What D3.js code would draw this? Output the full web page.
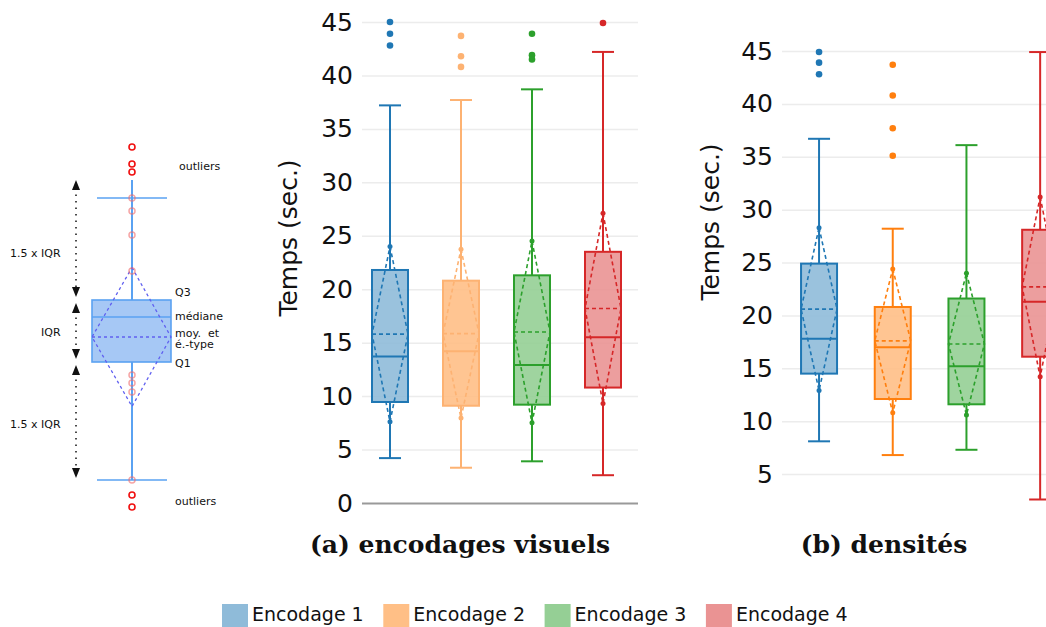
<!DOCTYPE html>
<html>
<head>
<meta charset="utf-8">
<script src="https://cdn.jsdelivr.net/npm/d3@7"></script>
<style>
  body { margin: 0; background: #fff; }
  svg { display: block; font-family: "DejaVu Sans", sans-serif; }
</style>
</head>
<body>
<script>
// --- data ---
const categories = ["Encodage 1", "Encodage 2", "Encodage 3", "Encodage 4"];
const ticksA = [0, 5, 10, 15, 20, 25, 30, 35, 40, 45];
const ticksB = [5, 10, 15, 20, 25, 30, 35, 40, 45];

// (a) encodages visuels
const aLow = [4.2, 3.3, 3.9, 2.6];
const aQ1 = [9.45, 9.1, 9.2, 10.8];
const aMed = [13.7, 14.2, 12.9, 15.5];
const aQ3 = [21.8, 20.8, 21.3, 23.5];
const aHigh = [37.2, 37.7, 38.7, 42.2];
const aMean = [15.8, 15.85, 16.0, 18.2];
const aSd = [8.2, 7.9, 8.5, 8.9];
const aOut = [[45.0, 43.9, 42.8], [43.7, 41.8, 40.8], [43.9, 41.9, 41.5], [44.9]];

// (b) densités
const bLow = [8.1, 6.8, 7.3, 2.6];
const bQ1 = [14.5, 12.1, 11.6, 16.1];
const bMed = [17.8, 17.0, 15.2, 21.3];
const bQ3 = [24.9, 20.8, 21.6, 28.1];
const bHigh = [36.7, 28.2, 36.1, 44.9];
const bMean = [20.6, 17.6, 17.3, 22.7];
const bSd = [7.7, 6.8, 6.7, 8.5];
const bOut = [[44.9, 43.9, 42.8], [43.7, 40.8, 37.7, 35.1], [], []];

// schematic (abstract units)
const sStats = {low: 2.7, q1: 14.5, med: 19.0, q3: 20.7, high: 30.9, top: 32.7, mean: 17.0, sd: 6.95};
const sOutliers = [36.0, 34.3, 33.5, 1.2, 0.0];
const sInside = [30.9, 29.6, 27.2, 23.6, 13.2, 12.4, 11.5, 2.7];

const lineColors = ["#1f77b4", "#ff7f0e", "#2ca02c", "#d62728"];
const lineColorsA = ["#1f77b4", "#fdb272", "#2ca02c", "#d62728"];
const swatch = ["#8fbbd9", "#ffbf86", "#95cf95", "#ea9393"];

const W = 1046, H = 627;
const svg = d3.select("body").append("svg").attr("width", W).attr("height", H);
svg.append("rect").attr("width", W).attr("height", H).attr("fill", "#fff");

function panel(opt) {
  const y = d3.scaleLinear().domain([0, 45]).range(opt.yRange);
  const x = d3.scalePoint().domain(categories).range(opt.xRange).padding(0.5);
  const g = svg.append("g");

  const axis = d3.axisLeft(y).tickValues(opt.ticks)
    .tickSize(-(opt.gridEnd - opt.gridStart)).tickPadding(9);
  const ax = g.append("g").attr("transform", "translate(" + opt.gridStart + ",0)").call(axis);
  ax.select(".domain").remove();
  ax.selectAll("line").attr("stroke", "#ececec").attr("stroke-width", 1.5);
  ax.selectAll("text").attr("font-size", 25).attr("fill", "#111")
    .attr("font-family", "DejaVu Sans");
  if (opt.baseline) {
    ax.selectAll(".tick").filter(d => d === 0).select("line")
      .attr("stroke", "#999").attr("stroke-width", 2);
  }

  g.append("text").attr("transform", "translate(" + opt.titleX + "," + opt.titleY + ") rotate(-90)")
    .attr("text-anchor", "middle").attr("dominant-baseline", "central")
    .attr("font-size", 25).attr("fill", "#111").text("Temps (sec.)");

  const bw = 36, cw = 22;
  categories.forEach((c, i) => {
    const cx = x(c), col = opt.colors[i];
    const bg = g.append("g");
    // whiskers
    bg.append("line").attr("x1", cx).attr("x2", cx).attr("y1", y(opt.low[i])).attr("y2", y(opt.q1[i]))
      .attr("stroke", col).attr("stroke-width", 2);
    bg.append("line").attr("x1", cx).attr("x2", cx).attr("y1", y(opt.q3[i])).attr("y2", y(opt.high[i]))
      .attr("stroke", col).attr("stroke-width", 2);
    [opt.low[i], opt.high[i]].forEach(v => {
      bg.append("line").attr("x1", cx - cw / 2).attr("x2", cx + cw / 2).attr("y1", y(v)).attr("y2", y(v))
        .attr("stroke", col).attr("stroke-width", 2);
    });
    // box
    bg.append("rect").attr("x", cx - bw / 2).attr("width", bw)
      .attr("y", y(opt.q3[i])).attr("height", y(opt.q1[i]) - y(opt.q3[i]))
      .attr("fill", swatch[i]).attr("fill-opacity", 0.9).attr("stroke", col).attr("stroke-width", 2);
    // median
    bg.append("line").attr("x1", cx - bw / 2).attr("x2", cx + bw / 2)
      .attr("y1", y(opt.med[i])).attr("y2", y(opt.med[i])).attr("stroke", col).attr("stroke-width", 2);
    // mean & sd diamond
    const m = opt.mean[i], s = opt.sd[i];
    bg.append("line").attr("x1", cx - bw / 2).attr("x2", cx + bw / 2)
      .attr("y1", y(m)).attr("y2", y(m)).attr("stroke", col).attr("stroke-width", 1.6)
      .attr("stroke-dasharray", "4,3");
    bg.append("path")
      .attr("d", d3.line()([[cx, y(m + s)], [cx + bw / 2, y(m)], [cx, y(m - s)], [cx - bw / 2, y(m)], [cx, y(m + s)]]))
      .attr("fill", "none").attr("stroke", col).attr("stroke-width", 1.6).attr("stroke-dasharray", "4,3");
    [m + s, m - s].forEach(v => {
      bg.append("circle").attr("cx", cx).attr("cy", y(v)).attr("r", 2.5).attr("fill", col);
    });
    // outliers
    bg.selectAll("circle.out").data(opt.out[i]).enter().append("circle").attr("class", "out")
      .attr("cx", cx).attr("cy", d => y(d)).attr("r", 3.3).attr("fill", col);
  });

  svg.append("text").attr("x", opt.capX).attr("y", 553).attr("text-anchor", "middle")
    .attr("font-family", "DejaVu Serif").attr("font-weight", "bold").attr("font-size", 25)
    .attr("fill", "#111").text(opt.caption);
}

panel({
  yRange: [503, 22], xRange: [354.5, 638.5], ticks: ticksA, gridStart: 362, gridEnd: 638,
  baseline: true, titleX: 288, titleY: 238, colors: lineColorsA,
  low: aLow, q1: aQ1, med: aMed, q3: aQ3, high: aHigh, mean: aMean, sd: aSd, out: aOut,
  capX: 460, caption: "(a) encodages visuels"
});

panel({
  yRange: [527, 51], xRange: [782.2, 1077], ticks: ticksB, gridStart: 782, gridEnd: 1046,
  baseline: false, titleX: 710, titleY: 222, colors: lineColors,
  low: bLow, q1: bQ1, med: bMed, q3: bQ3, high: bHigh, mean: bMean, sd: bSd, out: bOut,
  capX: 884, caption: "(b) densités"
});

// --- schematic box plot ---
const sy = d3.scaleLinear().domain([0, 36]).range([507, 147]);
const sx = 132, sbw = 79, scw = 70;
const sBlue = "#5aa2f2", sFill = "#a6c8f5", sDiam = "#6060f0";
const sg = svg.append("g").attr("font-size", 11).attr("fill", "#111");
sg.append("line").attr("x1", sx).attr("x2", sx).attr("y1", sy(sStats.top)).attr("y2", sy(sStats.low))
  .attr("stroke", sBlue).attr("stroke-width", 2);
[sStats.high, sStats.low].forEach(v => {
  sg.append("line").attr("x1", sx - 35).attr("x2", sx + 35).attr("y1", sy(v)).attr("y2", sy(v))
    .attr("stroke", sBlue).attr("stroke-width", 1.6);
});
sg.append("rect").attr("x", sx - 40).attr("width", sbw).attr("y", sy(sStats.q3))
  .attr("height", sy(sStats.q1) - sy(sStats.q3)).attr("fill", sFill).attr("stroke", sBlue).attr("stroke-width", 1.6);
sg.append("line").attr("x1", sx - 40).attr("x2", sx + 39).attr("y1", sy(sStats.med)).attr("y2", sy(sStats.med))
  .attr("stroke", sBlue).attr("stroke-width", 1.6);
sg.append("line").attr("x1", sx - 40).attr("x2", sx + 39).attr("y1", sy(sStats.mean)).attr("y2", sy(sStats.mean))
  .attr("stroke", sDiam).attr("stroke-width", 1.3).attr("stroke-dasharray", "3,3");
sg.append("path")
  .attr("d", d3.line()([[sx, sy(sStats.mean + sStats.sd)], [sx + 39, sy(sStats.mean)], [sx, sy(sStats.mean - sStats.sd)],
    [sx - 40, sy(sStats.mean)], [sx, sy(sStats.mean + sStats.sd)]]))
  .attr("fill", "none").attr("stroke", sDiam).attr("stroke-width", 1.3).attr("stroke-dasharray", "3,3");
sg.selectAll("circle.in").data(sInside).enter().append("circle").attr("class", "in")
  .attr("cx", sx).attr("cy", d => sy(d)).attr("r", 3).attr("fill", "none")
  .attr("stroke", "#f06a6a").attr("stroke-opacity", 0.6).attr("stroke-width", 1.5);
sg.selectAll("circle.out").data(sOutliers).enter().append("circle").attr("class", "out")
  .attr("cx", sx).attr("cy", d => sy(d)).attr("r", 3).attr("fill", "#fff")
  .attr("stroke", "#f01010").attr("stroke-width", 1.6);

// dotted double arrows
const ax0 = 76;
function arrowDown(yy) { return d3.line()([[ax0 - 4, yy - 10], [ax0 + 4, yy - 10], [ax0, yy]]); }
function arrowUp(yy) { return d3.line()([[ax0 - 4, yy + 10], [ax0 + 4, yy + 10], [ax0, yy]]); }
[[sStats.top, sStats.q3 + 0.3], [sStats.q3 - 0.3, sStats.q1 + 0.3], [sStats.q1 - 0.3, sStats.low + 0.2]].forEach(p => {
  const y1 = sy(p[0]), y2 = sy(p[1]);
  sg.append("line").attr("x1", ax0).attr("x2", ax0).attr("y1", y1 + 8).attr("y2", y2 - 8)
    .attr("stroke", "#111").attr("stroke-width", 1.5).attr("stroke-dasharray", "1.5,5");
  sg.append("path").attr("d", arrowUp(y1) + "Z").attr("fill", "#111");
  sg.append("path").attr("d", arrowDown(y2) + "Z").attr("fill", "#111");
});

const sLabels = [
  ["outliers", 179, 170], ["Q3", 175, 296], ["médiane", 175, 320], ["moy.  et", 175, 337],
  ["é.-type", 175, 348], ["Q1", 175, 367], ["outliers", 175, 505],
  ["1.5 x IQR", 10, 257], ["IQR", 41, 336], ["1.5 x IQR", 10, 428]
];
sLabels.forEach(l => {
  sg.append("text").attr("x", l[1]).attr("y", l[2]).attr("xml:space", "preserve").text(l[0]);
});

// --- legend ---
const lg = svg.append("g");
categories.forEach((c, i) => {
  const lx = 222 + i * 161.3;
  lg.append("rect").attr("x", lx).attr("y", 604).attr("width", 26).attr("height", 23).attr("fill", swatch[i]);
  lg.append("text").attr("x", lx + 30).attr("y", 621).attr("font-size", 19).attr("fill", "#111").text(c);
});
</script>
</body>
</html>
